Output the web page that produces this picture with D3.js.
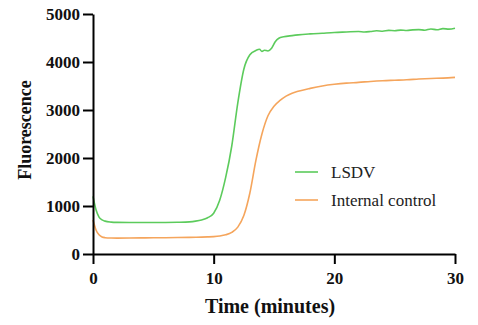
<!DOCTYPE html>
<html>
<head>
<meta charset="utf-8">
<script src="https://cdn.jsdelivr.net/npm/d3@7"></script>
<style>
html,body{margin:0;padding:0;background:#fff;}
svg{display:block;}
</style>
</head>
<body>
<svg id="chart" width="478" height="325"></svg>
<script>
// ---- data ----
const xTicks = [0, 10, 20, 30];
const yTicks = [0, 1000, 2000, 3000, 4000, 5000];
const seriesNames = ["LSDV", "Internal control"];

const lsdvTime = [0, 0.1, 0.25, 0.5, 0.75, 1, 1.5, 2, 3, 4, 5, 6, 7, 8, 8.5, 9, 9.5, 10, 10.5, 11, 11.5, 12, 12.5, 13, 13.5, 13.8, 14.0, 14.2, 14.5, 14.8, 15.1, 15.4, 15.8, 16.5, 17, 18, 19, 20, 21, 22, 22.5, 23, 23.5, 24, 24.5, 25, 25.5, 26, 26.5, 27, 27.5, 28, 28.5, 29, 29.5, 30];
const lsdvValues = [1200, 1080, 920, 770, 710, 685, 665, 658, 655, 655, 655, 656, 660, 670, 685, 710, 755, 850, 1120, 1600, 2250, 3150, 3850, 4150, 4240, 4265, 4220, 4245, 4230, 4285, 4420, 4495, 4525, 4550, 4565, 4585, 4600, 4615, 4625, 4635, 4625, 4635, 4650, 4642, 4658, 4652, 4665, 4657, 4670, 4675, 4663, 4688, 4672, 4695, 4684, 4705];

const icTime = [0, 0.1, 0.25, 0.5, 0.75, 1, 1.5, 2, 3, 4, 5, 6, 7, 8, 9, 9.5, 10, 10.5, 11, 11.5, 12, 12.5, 13, 13.5, 14, 14.5, 15, 15.5, 16, 16.5, 17, 18, 19, 20, 21, 22, 23, 24, 25, 26, 27, 28, 29, 30];
const icValues = [710, 620, 500, 400, 355, 340, 332, 330, 332, 335, 338, 340, 343, 347, 352, 356, 362, 375, 400, 450, 560, 800, 1270, 1950, 2500, 2880, 3080, 3200, 3290, 3350, 3390, 3450, 3500, 3535, 3560, 3575, 3595, 3610, 3620, 3630, 3645, 3657, 3665, 3680];

const colors = ["#5ccb5c", "#f5a55c"];

// ---- drawing ----
const svg = d3.select("#chart");
const serif = "'Liberation Serif', 'Times New Roman', serif";

const x = d3.scaleLinear().domain([0, 30]).range([93, 455]);
const y = d3.scaleLinear().domain([0, 5000]).range([254, 14]);

const line = d3.line()
  .x(d => x(d[0]))
  .y(d => y(d[1]))
  .curve(d3.curveMonotoneX);

const lsdv = lsdvTime.map((t, i) => [t, lsdvValues[i]]);
const ic = icTime.map((t, i) => [t, icValues[i]]);

svg.append("path").datum(ic)
  .attr("d", line).attr("fill", "none")
  .attr("stroke", colors[1]).attr("stroke-width", 1.6);
svg.append("path").datum(lsdv)
  .attr("d", line).attr("fill", "none")
  .attr("stroke", colors[0]).attr("stroke-width", 1.6);

// axes
const yAxis = d3.axisLeft(y).tickValues(yTicks).tickFormat(d3.format("d")).tickSize(10).tickSizeOuter(0).tickPadding(3);
const xAxis = d3.axisBottom(x).tickValues(xTicks).tickFormat(d3.format("d")).tickSize(10).tickSizeOuter(0).tickPadding(8);

const gy = svg.append("g").attr("transform", `translate(${x(0)},0)`).call(yAxis);
const gx = svg.append("g").attr("transform", `translate(0,${y(0)})`).call(xAxis);

[gx, gy].forEach(g => {
  g.select(".domain").attr("stroke", "#000").attr("stroke-width", 2);
  g.selectAll(".tick line").attr("stroke", "#000").attr("stroke-width", 2);
  g.selectAll(".tick text")
    .attr("fill", "#111")
    .style("font-family", serif)
    .style("font-weight", "bold")
    .style("font-size", "17px");
});

// axis titles
svg.append("text")
  .attr("x", 270).attr("y", 313)
  .attr("text-anchor", "middle")
  .style("font-family", serif).style("font-weight", "bold").style("font-size", "20px")
  .attr("fill", "#111")
  .text("Time (minutes)");

svg.append("text")
  .attr("transform", "translate(31,130) rotate(-90)")
  .attr("text-anchor", "middle")
  .style("font-family", serif).style("font-weight", "bold").style("font-size", "18px")
  .attr("fill", "#111")
  .text("Fluorescence");

// legend
const legendY = [172, 200];
seriesNames.forEach((name, i) => {
  svg.append("line")
    .attr("x1", 295).attr("x2", 318)
    .attr("y1", legendY[i]).attr("y2", legendY[i])
    .attr("stroke", colors[i]).attr("stroke-width", 1.6);
  svg.append("text")
    .attr("x", 331).attr("y", legendY[i])
    .attr("dy", "0.35em")
    .style("font-family", serif).style("font-size", "17px")
    .attr("fill", "#222")
    .text(name);
});
</script>
</body>
</html>
